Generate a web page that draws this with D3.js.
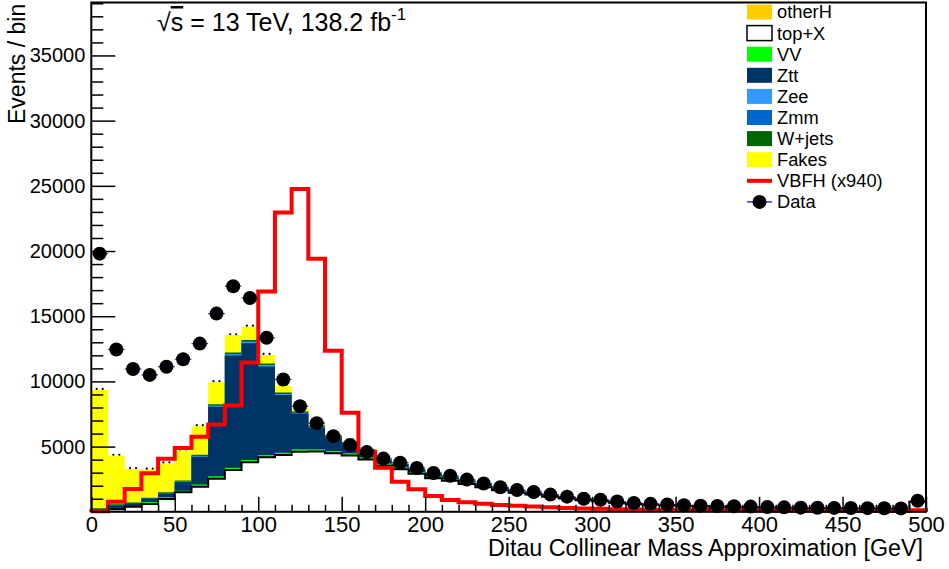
<!DOCTYPE html>
<html>
<head>
<meta charset="utf-8">
<script src="https://cdn.jsdelivr.net/npm/d3@7"></script>
<style>
  body { margin: 0; background: #fff; }
  text { font-family: "Liberation Sans", Arial, sans-serif; fill: #000; }
</style>
</head>
<body>
<svg id="chart" width="949" height="569"></svg>
<script>
// bins of 10 GeV from 0 to 500
const binLow = d3.range(0, 500, 10);

// stack components, bottom to top
const otherH = [20,20,25,25,30,30,35,35,40,45,45,45,45,45,40,40,40,35,30,30,25,25,20,20,18,16,15,13,12,10,9,8,7,6,6,5,5,4,4,4,3,3,3,3,3,2,2,2,2,8];
const topX   = [60,170,365,575,950,1470,1895,2505,3170,3755,4135,4315,4565,4575,4450,4280,3970,3500,3230,2880,2555,2360,2120,1870,1630,1450,1310,1145,1005,875,797,693,597,536,488,440,414,388,366,349,323,301,283,274,265,257,248,239,230,740];
const VV     = [20,30,60,150,130,110,170,180,170,170,180,175,190,180,175,170,170,160,150,135,125,115,105,95,85,75,68,60,52,46,42,36,31,28,25,23,21,20,19,18,17,16,15,14,14,13,13,12,12,40];
const Ztt    = [120,280,200,245,290,680,2130,5330,8610,8960,6790,4415,2730,1670,1050,760,530,250,230,200,175,155,135,115,95,82,72,62,55,47,42,36,31,28,25,22,21,19,18,17,15,14,13,13,12,12,11,11,10,35];
const Zee    = [10,10,10,12,15,25,50,80,100,110,100,80,60,50,35,25,20,15,12,10,10,8,8,6,5,5,4,4,3,3,3,2,2,2,2,1,1,1,1,1,1,1,1,1,1,1,1,1,1,2];
const Zmm    = [10,10,5,5,5,5,10,10,10,10,10,10,10,10,10,5,5,5,5,5,5,4,4,3,3,2,2,2,2,1,1,1,1,1,1,1,1,1,1,1,1,0,0,0,0,0,0,0,0,1];
const Wjets  = [40,60,50,60,70,80,90,100,120,120,110,100,90,80,70,60,60,50,45,40,35,33,30,25,22,20,18,15,13,12,10,9,7,6,5,5,4,4,4,3,3,3,3,3,3,3,3,3,3,8];
const Fakes  = [9070,3720,2560,2160,2230,2300,2190,1700,1320,1030,660,510,370,300,120,115,75,35,38,30,20,20,18,16,12,10,11,9,8,6,6,5,4,3,3,3,3,3,2,2,2,2,2,2,2,2,2,2,2,6];

// signal (scaled x940) and data
const VBFH = [40,780,1750,2950,4070,4900,5750,6700,8150,11450,16900,22950,24750,19400,12350,7600,4610,3380,2310,1730,1210,905,730,620,520,470,400,350,300,260,230,200,180,160,150,140,130,120,110,100,95,90,85,80,75,70,65,60,55,110];
const dataVals = [19800,12450,10950,10500,11130,11700,12900,15200,17300,16400,13350,10150,8100,6800,5800,5120,4580,4080,3770,3360,2980,2760,2470,2170,1880,1670,1520,1320,1160,1000,920,790,680,610,560,500,470,440,420,400,370,340,320,310,300,290,280,270,260,850];

const xTicks = [0,50,100,150,200,250,300,350,400,450,500];
const yTicks = [5000,10000,15000,20000,25000,30000,35000];

const layers = [
  {key: "otherH", values: otherH, color: "#ffcc00"},
  {key: "top+X",  values: topX,   color: "#ffffff"},
  {key: "VV",     values: VV,     color: "#00ff00"},
  {key: "Ztt",    values: Ztt,    color: "#003366"},
  {key: "Zee",    values: Zee,    color: "#3399ff"},
  {key: "Zmm",    values: Zmm,    color: "#0066cc"},
  {key: "W+jets", values: Wjets,  color: "#006600"},
  {key: "Fakes",  values: Fakes,  color: "#ffff00"}
];

const svg = d3.select("#chart");
const x = d3.scaleLinear().domain([0, 500]).range([91.3, 926]);
const y = d3.scaleLinear().domain([0, 39060]).range([511.8, 2.5]);

// table for d3.stack
const rows = binLow.map((b, i) => {
  const r = {b: b};
  layers.forEach(l => { r[l.key] = l.values[i]; });
  return r;
});
const series = d3.stack().keys(layers.map(l => l.key))(rows);

function stepPts(vals) {
  const pts = binLow.map((b, i) => [b, vals[i]]);
  pts.push([500, vals[vals.length - 1]]);
  return pts;
}

const area = d3.area()
  .x(d => x(d[0])).y0(y(0)).y1(d => y(d[1]))
  .curve(d3.curveStepAfter);
const line = d3.line()
  .x(d => x(d[0])).y(d => y(d[1]))
  .curve(d3.curveStepAfter);

// draw cumulative histograms from the top one down (ROOT style)
const plot = svg.append("g");
series.slice().reverse().forEach((s, k) => {
  const layer = layers[series.length - 1 - k];
  const tops = s.map(d => d[1]);
  plot.append("path")
    .attr("d", area(stepPts(tops)))
    .attr("fill", layer.color)
    .attr("stroke", "none");
  if (layer.key === "top+X") {
    plot.append("path")
      .attr("d", line([[0, 0]].concat(stepPts(tops), [[500, 0]])))
      .attr("fill", "none")
      .attr("stroke", "#000")
      .attr("stroke-width", 2);
  }
});

// small error marks on top of the stack
const totals = series[series.length - 1].map(d => d[1]);
plot.selectAll(".errmark")
  .data(binLow.flatMap((b, i) => [[b + 3.2, totals[i]], [b + 6.8, totals[i]]]))
  .enter().append("circle")
  .attr("cx", d => x(d[0])).attr("cy", d => y(d[1]) - 1)
  .attr("r", 1.1).attr("fill", "#000");

// VBFH signal line
plot.append("path")
  .attr("d", line([[0, 0]].concat(stepPts(VBFH), [[500, 0]])))
  .attr("fill", "none")
  .attr("stroke", "#ff0000")
  .attr("stroke-width", 4);

// data points
const pts = plot.selectAll(".data").data(binLow.map((b, i) => [b, dataVals[i]]))
  .enter().append("g");
pts.append("line")
  .attr("x1", d => x(d[0])).attr("x2", d => x(d[0] + 10))
  .attr("y1", d => y(d[1])).attr("y2", d => y(d[1]))
  .attr("stroke", "#3333cc").attr("stroke-width", 1.2);
pts.append("circle")
  .attr("cx", d => x(d[0] + 5)).attr("cy", d => y(d[1]))
  .attr("r", 7).attr("fill", "#000");

// axes, ticks inside the frame
const xAxis = svg.append("g").attr("transform", "translate(0,511.8)")
  .call(d3.axisBottom(x).tickValues(xTicks).tickSize(-15).tickPadding(5).tickFormat(d3.format("d")));
svg.append("g").attr("transform", "translate(0,511.8)")
  .call(d3.axisBottom(x).tickValues(d3.range(0, 501, 10).filter(v => v % 50 !== 0)).tickSize(-7).tickFormat(""));
const yAxis = svg.append("g").attr("transform", "translate(91.3,0)")
  .call(d3.axisLeft(y).tickValues(yTicks).tickSize(-24).tickPadding(6).tickFormat(d3.format("d")));
svg.append("g").attr("transform", "translate(91.3,0)")
  .call(d3.axisLeft(y).tickValues(d3.range(1000, 39001, 1000).filter(v => v % 5000 !== 0)).tickSize(-12).tickFormat(""));

svg.selectAll(".domain").remove();
svg.selectAll(".tick line").attr("stroke", "#000").attr("stroke-width", 1.5);
xAxis.selectAll("text").attr("font-size", 22).attr("font-family", "Liberation Sans, Arial, sans-serif");
yAxis.selectAll("text").attr("font-size", 20).attr("font-family", "Liberation Sans, Arial, sans-serif");

// frame
svg.append("rect")
  .attr("x", 91.3).attr("y", 2.5)
  .attr("width", 926 - 91.3).attr("height", 511.8 - 2.5)
  .attr("fill", "none").attr("stroke", "#000").attr("stroke-width", 2);

// axis titles
svg.append("text")
  .attr("x", 923).attr("y", 556)
  .attr("text-anchor", "end").attr("font-size", 23.3)
  .text("Ditau Collinear Mass Approximation [GeV]");
svg.append("text")
  .attr("transform", "translate(25,124) rotate(-90)")
  .attr("text-anchor", "start").attr("font-size", 23)
  .text("Events / bin");

// energy / lumi label
const lumi = svg.append("text").attr("x", 157).attr("y", 31).attr("font-size", 25);
lumi.append("tspan").text("√");
lumi.append("tspan").attr("style", "text-decoration: overline").text("s");
lumi.append("tspan").text(" = 13 TeV, 138.2 fb");
lumi.append("tspan").attr("dy", -11).attr("font-size", 17).text("-1");

// legend
const legendItems = [
  {label: "otherH", type: "box", color: "#ffcc00"},
  {label: "top+X", type: "box", color: "#ffffff", stroke: "#000"},
  {label: "VV", type: "box", color: "#00ff00"},
  {label: "Ztt", type: "box", color: "#003366"},
  {label: "Zee", type: "box", color: "#3399ff"},
  {label: "Zmm", type: "box", color: "#0066cc"},
  {label: "W+jets", type: "box", color: "#006600"},
  {label: "Fakes", type: "box", color: "#ffff00"},
  {label: "VBFH (x940)", type: "line", color: "#ff0000"},
  {label: "Data", type: "marker", color: "#000"}
];
const leg = svg.append("g");
legendItems.forEach((d, i) => {
  const cy = 12 + i * 21.1;
  if (d.type === "box") {
    leg.append("rect").attr("x", 747).attr("y", cy - 7.5).attr("width", 25).attr("height", 15)
      .attr("fill", d.color).attr("stroke", d.stroke || "none").attr("stroke-width", 1.5);
  } else if (d.type === "line") {
    leg.append("line").attr("x1", 747).attr("x2", 772).attr("y1", cy).attr("y2", cy)
      .attr("stroke", d.color).attr("stroke-width", 4);
  } else {
    leg.append("line").attr("x1", 747).attr("x2", 772).attr("y1", cy).attr("y2", cy)
      .attr("stroke", "#3333cc").attr("stroke-width", 1.5);
    leg.append("circle").attr("cx", 759.5).attr("cy", cy).attr("r", 7).attr("fill", "#000");
  }
  leg.append("text").attr("x", 777).attr("y", cy).attr("dy", "0.35em")
    .attr("font-size", 18.3).text(d.label);
});
</script>
</body>
</html>
